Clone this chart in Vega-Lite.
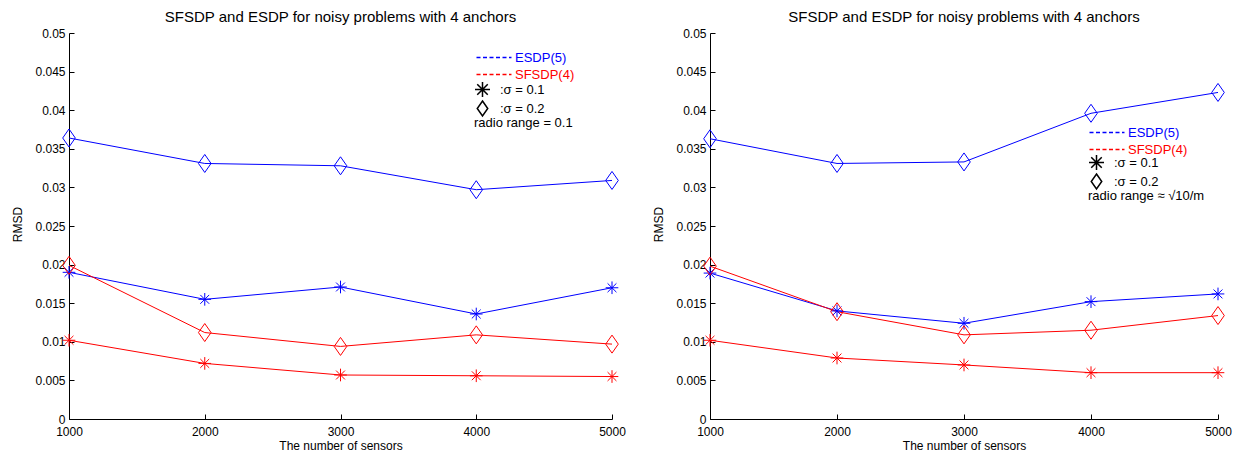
{
  "$schema": "https://vega.github.io/schema/vega-lite/v6.json",
  "background": "white",
  "padding": {"left": 11, "top": 10, "right": 5, "bottom": 2},
  "spacing": 26,
  "config": {
    "font": "Liberation Sans",
    "view": {"stroke": null},
    "axis": {
      "grid": false, "domainColor": "black", "tickColor": "black", "labelColor": "black", "titleColor": "black",
      "labelFont": "Liberation Sans", "titleFont": "Liberation Sans", "labelFontSize": 12, "titleFontSize": 12,
      "titleFontWeight": "normal", "tickSize": -5, "domainWidth": 1, "tickWidth": 1
    },
    "title": {"font": "Liberation Sans", "fontSize": 15, "fontWeight": "normal", "color": "black", "offset": 2},
    "legend": {
      "labelFont": "Liberation Sans", "labelFontSize": 13, "titleFont": "Liberation Sans", "titleFontSize": 13,
      "titleFontWeight": "normal", "titleColor": "black", "labelColor": "black", "padding": 0, "rowPadding": 0
    }
  },
  "datasets": {
    "d": [
      {"panel": "left", "method": "ESDP(5)", "sigma": ":σ = 0.2", "n": 1000, "rmsd": 0.0364},
      {"panel": "left", "method": "ESDP(5)", "sigma": ":σ = 0.2", "n": 2000, "rmsd": 0.0331},
      {"panel": "left", "method": "ESDP(5)", "sigma": ":σ = 0.2", "n": 3000, "rmsd": 0.0328},
      {"panel": "left", "method": "ESDP(5)", "sigma": ":σ = 0.2", "n": 4000, "rmsd": 0.0297},
      {"panel": "left", "method": "ESDP(5)", "sigma": ":σ = 0.2", "n": 5000, "rmsd": 0.0309},
      {"panel": "left", "method": "ESDP(5)", "sigma": ":σ = 0.1", "n": 1000, "rmsd": 0.0190},
      {"panel": "left", "method": "ESDP(5)", "sigma": ":σ = 0.1", "n": 2000, "rmsd": 0.0155},
      {"panel": "left", "method": "ESDP(5)", "sigma": ":σ = 0.1", "n": 3000, "rmsd": 0.0171},
      {"panel": "left", "method": "ESDP(5)", "sigma": ":σ = 0.1", "n": 4000, "rmsd": 0.0136},
      {"panel": "left", "method": "ESDP(5)", "sigma": ":σ = 0.1", "n": 5000, "rmsd": 0.0170},
      {"panel": "left", "method": "SFSDP(4)", "sigma": ":σ = 0.2", "n": 1000, "rmsd": 0.0199},
      {"panel": "left", "method": "SFSDP(4)", "sigma": ":σ = 0.2", "n": 2000, "rmsd": 0.0112},
      {"panel": "left", "method": "SFSDP(4)", "sigma": ":σ = 0.2", "n": 3000, "rmsd": 0.0094},
      {"panel": "left", "method": "SFSDP(4)", "sigma": ":σ = 0.2", "n": 4000, "rmsd": 0.0109},
      {"panel": "left", "method": "SFSDP(4)", "sigma": ":σ = 0.2", "n": 5000, "rmsd": 0.0097},
      {"panel": "left", "method": "SFSDP(4)", "sigma": ":σ = 0.1", "n": 1000, "rmsd": 0.0102},
      {"panel": "left", "method": "SFSDP(4)", "sigma": ":σ = 0.1", "n": 2000, "rmsd": 0.0072},
      {"panel": "left", "method": "SFSDP(4)", "sigma": ":σ = 0.1", "n": 3000, "rmsd": 0.0057},
      {"panel": "left", "method": "SFSDP(4)", "sigma": ":σ = 0.1", "n": 4000, "rmsd": 0.0056},
      {"panel": "left", "method": "SFSDP(4)", "sigma": ":σ = 0.1", "n": 5000, "rmsd": 0.0055},
      {"panel": "right", "method": "ESDP(5)", "sigma": ":σ = 0.2", "n": 1000, "rmsd": 0.0363},
      {"panel": "right", "method": "ESDP(5)", "sigma": ":σ = 0.2", "n": 2000, "rmsd": 0.0331},
      {"panel": "right", "method": "ESDP(5)", "sigma": ":σ = 0.2", "n": 3000, "rmsd": 0.0333},
      {"panel": "right", "method": "ESDP(5)", "sigma": ":σ = 0.2", "n": 4000, "rmsd": 0.0396},
      {"panel": "right", "method": "ESDP(5)", "sigma": ":σ = 0.2", "n": 5000, "rmsd": 0.0423},
      {"panel": "right", "method": "ESDP(5)", "sigma": ":σ = 0.1", "n": 1000, "rmsd": 0.0189},
      {"panel": "right", "method": "ESDP(5)", "sigma": ":σ = 0.1", "n": 2000, "rmsd": 0.0140},
      {"panel": "right", "method": "ESDP(5)", "sigma": ":σ = 0.1", "n": 3000, "rmsd": 0.0124},
      {"panel": "right", "method": "ESDP(5)", "sigma": ":σ = 0.1", "n": 4000, "rmsd": 0.0152},
      {"panel": "right", "method": "ESDP(5)", "sigma": ":σ = 0.1", "n": 5000, "rmsd": 0.0162},
      {"panel": "right", "method": "SFSDP(4)", "sigma": ":σ = 0.2", "n": 1000, "rmsd": 0.0198},
      {"panel": "right", "method": "SFSDP(4)", "sigma": ":σ = 0.2", "n": 2000, "rmsd": 0.0139},
      {"panel": "right", "method": "SFSDP(4)", "sigma": ":σ = 0.2", "n": 3000, "rmsd": 0.0109},
      {"panel": "right", "method": "SFSDP(4)", "sigma": ":σ = 0.2", "n": 4000, "rmsd": 0.0115},
      {"panel": "right", "method": "SFSDP(4)", "sigma": ":σ = 0.2", "n": 5000, "rmsd": 0.0134},
      {"panel": "right", "method": "SFSDP(4)", "sigma": ":σ = 0.1", "n": 1000, "rmsd": 0.0102},
      {"panel": "right", "method": "SFSDP(4)", "sigma": ":σ = 0.1", "n": 2000, "rmsd": 0.0079},
      {"panel": "right", "method": "SFSDP(4)", "sigma": ":σ = 0.1", "n": 3000, "rmsd": 0.0070},
      {"panel": "right", "method": "SFSDP(4)", "sigma": ":σ = 0.1", "n": 4000, "rmsd": 0.0060},
      {"panel": "right", "method": "SFSDP(4)", "sigma": ":σ = 0.1", "n": 5000, "rmsd": 0.0060}
    ]
  },
  "hconcat": [
    {
      "title": "SFSDP  and ESDP for noisy problems with 4 anchors",
      "width": 543, "height": 386,
      "data": {"name": "d"},
      "transform": [{"filter": "datum.panel === 'left'"}],
      "encoding": {
        "x": {"field": "n", "type": "quantitative", "scale": {"domain": [1000, 5000], "nice": false, "zero": false},
              "axis": {"values": [1000, 2000, 3000, 4000, 5000], "format": "d", "title": "The number of sensors", "labelFlush": false, "labelPadding": 12, "titlePadding": 3}},
        "y": {"field": "rmsd", "type": "quantitative", "scale": {"domain": [0, 0.05], "nice": false, "zero": true},
              "axis": {"values": [0, 0.005, 0.01, 0.015, 0.02, 0.025, 0.03, 0.035, 0.04, 0.045, 0.05], "format": "~g", "title": "RMSD", "labelFlush": false, "labelPadding": 9, "titleX": -45, "titleY": 191}},
        "color": {"field": "method", "type": "nominal", "scale": {"domain": ["ESDP(5)", "SFSDP(4)"], "range": ["#0000ff", "#ff0000"]},
                  "legend": {"orient": "none", "legendX": 398, "legendY": 15, "title": null, "symbolType": "M0,0L4,0", "symbolSize": 306, "symbolDash": [4, 2.5], "symbolStrokeWidth": 1.3, "labelOffset": 29,
                             "encode": {"labels": {"update": {"fill": {"signal": "datum.value === 'ESDP(5)' ? '#0000ff' : '#ff0000'"}}},
                                        "symbols": {"enter": {"stroke": {"signal": "datum.value === 'ESDP(5)' ? '#0000ff' : '#ff0000'"}}, "update": {"stroke": {"signal": "datum.value === 'ESDP(5)' ? '#0000ff' : '#ff0000'"}, "opacity": {"value": 1}, "strokeOpacity": {"value": 1}}}}}}
      },
      "layer": [
        {"mark": {"type": "line", "strokeWidth": 1}, "encoding": {"detail": {"field": "sigma", "type": "nominal"}}},
        {"transform": [{"filter": "datum.sigma === ':σ = 0.1'"}],
         "mark": {"type": "point", "filled": false, "strokeWidth": 1, "opacity": 1, "size": 160},
         "encoding": {
           "shape": {"field": "sigma", "type": "nominal", "scale": {"domain": [":σ = 0.1", ":σ = 0.2"], "range": ["M0,-1L0,1M-1,0L1,0M-0.7,-0.7L0.7,0.7M-0.7,0.7L0.7,-0.7", "M0,-1L0.7,0L0,1L-0.7,0Z"]},
                     "legend": {"orient": "none", "legendX": 405, "legendY": 48, "title": "radio range = 0.1", "titleOrient": "bottom", "titleAnchor": "start", "titlePadding": -2, "rowPadding": -8, "symbolSize": 225, "symbolStrokeColor": "black", "symbolFillColor": "transparent", "labelOffset": 9}}
         }},
        {"transform": [{"filter": "datum.sigma === ':σ = 0.2'"}],
         "mark": {"type": "point", "filled": false, "strokeWidth": 1, "opacity": 1, "size": 324},
         "encoding": {
           "shape": {"field": "sigma", "type": "nominal", "scale": {"domain": [":σ = 0.1", ":σ = 0.2"], "range": ["M0,-1L0,1M-1,0L1,0M-0.7,-0.7L0.7,0.7M-0.7,0.7L0.7,-0.7", "M0,-1L0.7,0L0,1L-0.7,0Z"]},
                     "legend": {"orient": "none", "legendX": 405, "legendY": 48, "title": "radio range = 0.1", "titleOrient": "bottom", "titleAnchor": "start", "titlePadding": -2, "rowPadding": -8, "symbolSize": 225, "symbolStrokeColor": "black", "symbolFillColor": "transparent", "labelOffset": 9}}
         }}
      ]
    },
    {
      "title": "SFSDP  and ESDP for noisy problems with 4 anchors",
      "width": 508, "height": 386,
      "data": {"name": "d"},
      "transform": [{"filter": "datum.panel === 'right'"}],
      "encoding": {
        "x": {"field": "n", "type": "quantitative", "scale": {"domain": [1000, 5000], "nice": false, "zero": false},
              "axis": {"values": [1000, 2000, 3000, 4000, 5000], "format": "d", "title": "The number of sensors", "labelFlush": false, "labelPadding": 12, "titlePadding": 3}},
        "y": {"field": "rmsd", "type": "quantitative", "scale": {"domain": [0, 0.05], "nice": false, "zero": true},
              "axis": {"values": [0, 0.005, 0.01, 0.015, 0.02, 0.025, 0.03, 0.035, 0.04, 0.045, 0.05], "format": "~g", "title": "RMSD", "labelFlush": false, "labelPadding": 9, "titleX": -45, "titleY": 191}},
        "color": {"field": "method", "type": "nominal", "scale": {"domain": ["ESDP(5)", "SFSDP(4)"], "range": ["#0000ff", "#ff0000"]},
                  "legend": {"orient": "none", "legendX": 370, "legendY": 90, "title": null, "symbolType": "M0,0L4,0", "symbolSize": 306, "symbolDash": [4, 2.5], "symbolStrokeWidth": 1.3, "labelOffset": 29,
                             "encode": {"labels": {"update": {"fill": {"signal": "datum.value === 'ESDP(5)' ? '#0000ff' : '#ff0000'"}}},
                                        "symbols": {"enter": {"stroke": {"signal": "datum.value === 'ESDP(5)' ? '#0000ff' : '#ff0000'"}}, "update": {"stroke": {"signal": "datum.value === 'ESDP(5)' ? '#0000ff' : '#ff0000'"}, "opacity": {"value": 1}, "strokeOpacity": {"value": 1}}}}}}
      },
      "layer": [
        {"mark": {"type": "line", "strokeWidth": 1}, "encoding": {"detail": {"field": "sigma", "type": "nominal"}}},
        {"transform": [{"filter": "datum.sigma === ':σ = 0.1'"}],
         "mark": {"type": "point", "filled": false, "strokeWidth": 1, "opacity": 1, "size": 160},
         "encoding": {
           "shape": {"field": "sigma", "type": "nominal", "scale": {"domain": [":σ = 0.1", ":σ = 0.2"], "range": ["M0,-1L0,1M-1,0L1,0M-0.7,-0.7L0.7,0.7M-0.7,0.7L0.7,-0.7", "M0,-1L0.7,0L0,1L-0.7,0Z"]},
                     "legend": {"orient": "none", "legendX": 378, "legendY": 121, "title": "radio range ≈ √10/m", "titleOrient": "bottom", "titleAnchor": "start", "titlePadding": -2, "rowPadding": -8, "symbolSize": 225, "symbolStrokeColor": "black", "symbolFillColor": "transparent", "labelOffset": 9}}
         }},
        {"transform": [{"filter": "datum.sigma === ':σ = 0.2'"}],
         "mark": {"type": "point", "filled": false, "strokeWidth": 1, "opacity": 1, "size": 324},
         "encoding": {
           "shape": {"field": "sigma", "type": "nominal", "scale": {"domain": [":σ = 0.1", ":σ = 0.2"], "range": ["M0,-1L0,1M-1,0L1,0M-0.7,-0.7L0.7,0.7M-0.7,0.7L0.7,-0.7", "M0,-1L0.7,0L0,1L-0.7,0Z"]},
                     "legend": {"orient": "none", "legendX": 378, "legendY": 121, "title": "radio range ≈ √10/m", "titleOrient": "bottom", "titleAnchor": "start", "titlePadding": -2, "rowPadding": -8, "symbolSize": 225, "symbolStrokeColor": "black", "symbolFillColor": "transparent", "labelOffset": 9}}
         }}
      ]
    }
  ],
  "resolve": {
    "scale": {"color": "independent", "shape": "independent", "x": "independent", "y": "independent"},
    "legend": {"color": "independent", "shape": "independent"}
  }
}
